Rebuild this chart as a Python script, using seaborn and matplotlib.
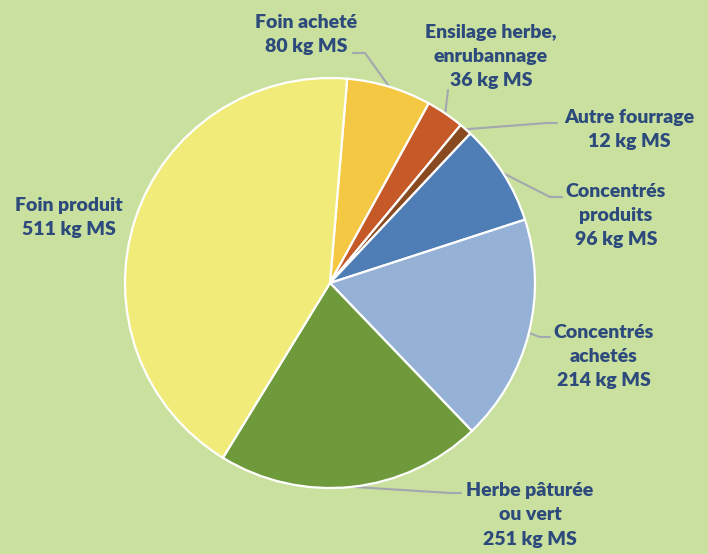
import numpy as np
import matplotlib
matplotlib.use("Agg")
import matplotlib.pyplot as plt
import seaborn as sns

# ---- data ----
categories = ["Foin acheté", "Ensilage herbe,\nenrubannage", "Autre fourrage",
              "Concentrés\nproduits", "Concentrés\nachetés", "Herbe pâturée\nou vert",
              "Foin produit"]
values = [80, 36, 12, 96, 214, 251, 511]
unit = "kg MS"
colors = ["#F5C843", "#C55A28", "#8A4A1F", "#4F7DB6", "#95B1D6", "#6E9A3C", "#F1EC79"]

# ---- layout (pixel coordinates in a 708x554 canvas) ----
W, H = 708, 554
CX, CY, R = 330, 283, 205
start_angle = 85.2
# text centers
label_pos = [(306, 35), (491, 57), (629, 130), (616, 216), (604, 357), (530, 515), (69, 218)]
# leader bends (None = no leader)
leader_pts = [[(365, 53), (353, 53)],
              [(448, 90)],
              [(547, 123), (557, 123)],
              [(550, 197), (562, 197)],
              [(540, 337), (550, 337)],
              [(450, 493), (461, 493)],
              None]

bg = "#C9E09E"
text_color = "#2D4A7C"
line_color = "#A3A7B0"

sns.set_style("white")
plt.rcParams["font.family"] = ["Lato", "DejaVu Sans"]

fig = plt.figure(figsize=(W / 100, H / 100), dpi=100)
fig.patch.set_facecolor(bg)
ax = fig.add_axes([0, 0, 1, 1])
ax.set_facecolor(bg)


def to_data(p):
    return ((p[0] - CX) / R, (CY - p[1]) / R)


palette = sns.color_palette(colors)
wedges, _ = ax.pie(values, colors=palette, startangle=start_angle, counterclock=False,
                   radius=1.0, center=(0, 0), frame=True,
                   wedgeprops=dict(edgecolor="white", linewidth=1.6))
ax.set_xlim(-CX / R, (W - CX) / R)
ax.set_ylim(-(H - CY) / R, CY / R)
ax.set_aspect("auto")
ax.axis("off")

for w, cat, v, lp, pts in zip(wedges, categories, values, label_pos, leader_pts):
    tx, ty = to_data(lp)
    ax.text(tx, ty, f"{cat}\n{v} {unit}", ha="center", va="center",
            fontsize=14, fontweight="heavy", color=text_color, linespacing=1.5)
    if pts is not None:
        mid = np.deg2rad((w.theta1 + w.theta2) / 2)
        xs = [np.cos(mid)] + [to_data(p)[0] for p in pts]
        ys = [np.sin(mid)] + [to_data(p)[1] for p in pts]
        ax.plot(xs, ys, color=line_color, linewidth=1.5, zorder=0.5)

fig.savefig("out.png", dpi=100, facecolor=bg)
